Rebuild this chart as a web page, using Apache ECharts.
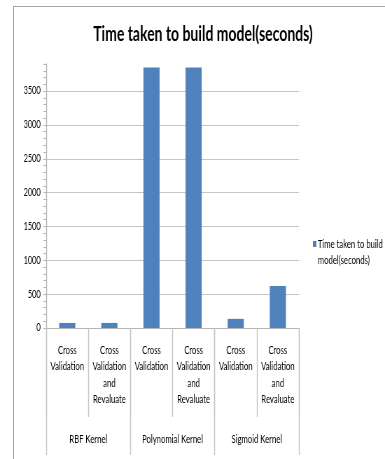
<!DOCTYPE html>
<html>
<head>
<meta charset="utf-8">
<script src="https://cdn.jsdelivr.net/npm/echarts@6/dist/echarts.min.js"></script>
<style>
  html, body { margin: 0; padding: 0; background: #fff; overflow: hidden; }
  #wrap { position: relative; width: 385px; height: 459px; overflow: hidden; }
  /* the source picture is squeezed horizontally, so draw wider and squeeze */
  #chart { width: 550px; height: 459px; transform: scaleX(0.7); transform-origin: 0 0; }
  #frame { position: absolute; left: 13px; top: 6px; width: 400px; height: 500px;
           border-left: 1px solid #a6a6a6; border-top: 1px solid #a6a6a6; pointer-events: none; }
</style>
</head>
<body>
<div id="wrap">
  <div id="chart"></div>
  <div id="frame"></div>
</div>
<script>
const methods = ['Cross\nValidation', 'Cross\nValidation\nand\nRevaluate',
                 'Cross\nValidation', 'Cross\nValidation\nand\nRevaluate',
                 'Cross\nValidation', 'Cross\nValidation\nand\nRevaluate']
const kernels = ['RBF Kernel', 'Polynomial Kernel', 'Sigmoid Kernel']
const buildTimes = [75, 75, 3850, 3850, 135, 620]
const seriesName = 'Time taken to build model(seconds)'

const font = 'Lato, "Noto Sans", sans-serif'

const chart = echarts.init(document.getElementById('chart'))

// grid line only every 500, ticks every 100
const clear = 'rgba(0,0,0,0)'
const gridColors = ['#c4c4c4', clear, clear, clear, clear]

const option = {
  animation: false,
  textStyle: { fontFamily: font },
  title: {
    text: 'Time taken to build model(seconds)',
    left: 285, top: 20, textAlign: 'center',
    textStyle: { fontFamily: font, fontSize: 20, fontWeight: 'bold', color: '#000' }
  },
  legend: {
    left: 442, top: 215,
    itemWidth: 5, itemHeight: 6, itemGap: 0,
    icon: 'rect',
    // blank first line keeps the marker level with the first text line
    formatter: function () { return ' \nTime taken to build\nmodel(seconds)' },
    textStyle: { fontFamily: font, fontSize: 11, color: '#000', lineHeight: 16, padding: [0, 0, 0, -3] },
    data: [seriesName]
  },
  grid: { left: 66, right: 123, top: 64, bottom: 131, containLabel: false },
  xAxis: [{
    type: 'category',
    data: methods,
    axisLine: { show: true, lineStyle: { color: '#b5b5b5' } },
    axisTick: { show: true, length: 89, interval: 0, lineStyle: { color: '#c4c4c4', width: 1.4 } },
    axisLabel: { interval: 0, margin: 14, fontSize: 11, lineHeight: 16.5, color: '#000', fontFamily: font }
  }, {
    type: 'category',
    position: 'bottom',
    data: kernels,
    axisLine: { show: false },
    axisTick: { show: true, length: 127, interval: 0, lineStyle: { color: '#c4c4c4', width: 1.4 } },
    axisLabel: { interval: 0, margin: 106, fontSize: 11, color: '#000', fontFamily: font }
  }],
  yAxis: {
    type: 'value',
    min: 0, max: 3900, interval: 100,
    axisLine: { show: true, lineStyle: { color: '#b5b5b5', width: 1.4 } },
    axisTick: { show: true, length: 4, lineStyle: { color: '#b5b5b5' } },
    axisLabel: {
      margin: 8, fontSize: 10.5, color: '#000', fontFamily: font,
      formatter: function (v) { return v % 500 === 0 ? String(v) : '' }
    },
    splitLine: { show: true, lineStyle: { color: gridColors } }
  },
  series: [{
    name: seriesName,
    type: 'bar',
    data: buildTimes,
    barWidth: 23,
    itemStyle: { color: '#4f81bd' }
  }]
}

chart.setOption(option)
</script>
</body>
</html>
